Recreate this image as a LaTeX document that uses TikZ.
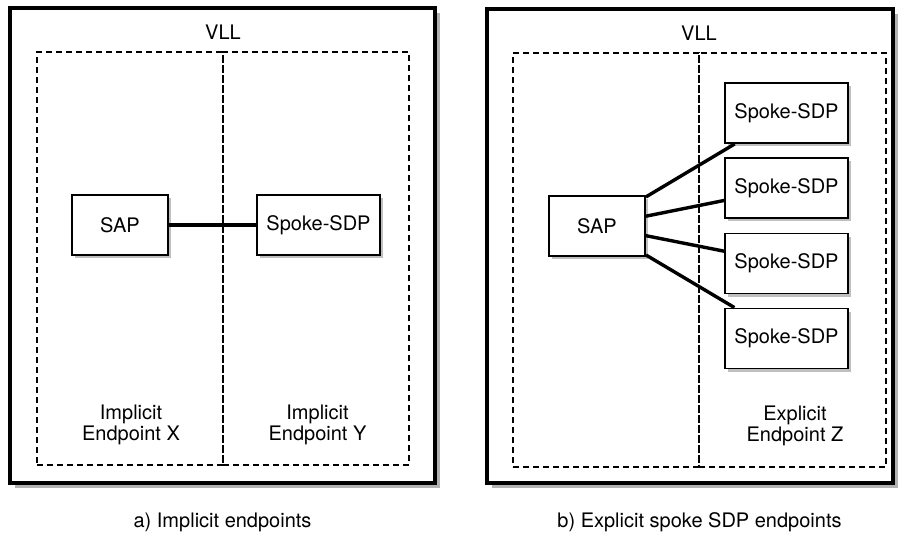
\documentclass[tikz,border=0pt]{standalone}
\usepackage{fontspec}
\setmainfont{TeX Gyre Heros}
\usetikzlibrary{shadows}
\tikzset{
  outerbox/.style={draw, line width=3.4pt, fill=white, inner sep=0pt,
    drop shadow={shadow xshift=5pt, shadow yshift=-5pt, fill=black!30, opacity=1}},
  zone/.style={draw, line width=1.5pt, dash pattern=on 6pt off 4pt, inner sep=0pt},
  elem/.style={draw, line width=1.9pt, fill=white, inner sep=0pt,
    minimum height=60pt,
    drop shadow={shadow xshift=3pt, shadow yshift=-3pt, fill=black!25, opacity=1}},
  sapbox/.style={elem, minimum width=96pt},
  sdpbox/.style={elem, minimum width=123pt},
  link/.style={line width=3.4pt},
  lbl/.style={align=center, inner sep=0pt},
}
\begin{document}
\begin{tikzpicture}[x=1pt,y=-1pt,font=\fontsize{20}{21.5}\selectfont]
\useasboundingbox (0,0) rectangle (904,536);
% ---- a) implicit endpoints
\node[outerbox, minimum width=425pt, minimum height=475pt] (outA) at (222.5,245.5) {};
\node[lbl] (vllA) at (223,32) {VLL};
\node[zone, minimum width=186pt, minimum height=413pt] (epX) at (130,258.5) {};
\node[zone, minimum width=186pt, minimum height=413pt] (epY) at (316,258.5) {};
\node[sapbox] (sapA) at (120,225) {SAP};
\node[sdpbox] (spA) at (318.5,225) {Spoke-SDP};
\draw[link] (sapA.east) -- (spA.west);
\node[lbl] (lX) at (131,425) {Implicit\\Endpoint X};
\node[lbl] (lY) at (317.5,425) {Implicit\\Endpoint Y};
\node[lbl] (capA) at (222.5,522) {a) Implicit endpoints};
% ---- b) explicit endpoints
\node[outerbox, minimum width=406pt, minimum height=474pt] (outB) at (690,246) {};
\node[lbl] (vllB) at (699,33) {VLL};
\node[zone, minimum width=186pt, minimum height=414pt] (epL) at (606,260) {};
\node[zone, minimum width=187pt, minimum height=414pt] (epZ) at (792.5,260) {};
\node[sapbox] (sapB) at (597,226) {SAP};
\node[sdpbox] (sp1) at (786.5,113) {Spoke-SDP};
\node[sdpbox] (sp2) at (786.5,188) {Spoke-SDP};
\node[sdpbox] (sp3) at (786.5,263.5) {Spoke-SDP};
\node[sdpbox] (sp4) at (786.5,338.5) {Spoke-SDP};
\foreach \s in {sp1,sp2,sp3,sp4} \draw[link] (sapB) -- (\s);
\node[lbl] (lZ) at (795,426) {Explicit\\Endpoint Z};
\node[lbl] (capB) at (699.5,522) {b) Explicit spoke SDP endpoints};
\end{tikzpicture}
\end{document}
